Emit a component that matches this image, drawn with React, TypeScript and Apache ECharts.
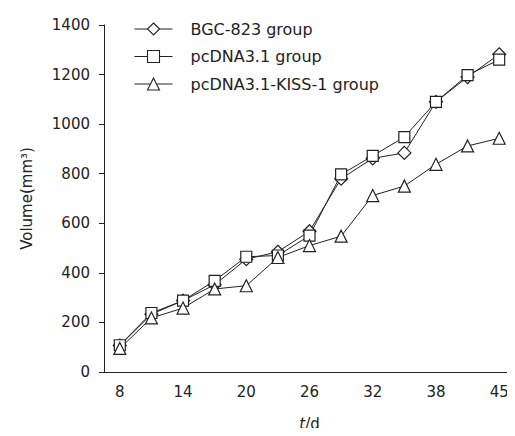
import React, { useEffect, useRef } from "react";
import * as echarts from "echarts";

const days = ["8", "11", "14", "17", "20", "23", "26", "29", "32", "35", "38", "41", "45"];
const bgc823 = [107, 233, 288, 352, 455, 485, 568, 780, 862, 884, 1090, 1190, 1282];
const pcdna = [108, 238, 288, 368, 465, 470, 550, 797, 872, 948, 1090, 1198, 1260];
const kiss1 = [95, 218, 258, 335, 348, 462, 510, 548, 712, 750, 838, 912, 943];
const yTicks = { min: 0, max: 1400, interval: 200 };

const FONT = "DejaVu Sans";
const INK = "#222";

export default function App() {
  const ref = useRef<HTMLDivElement>(null);
  useEffect(() => {
    if (!ref.current) return;
    const chart = echarts.init(ref.current, undefined, { renderer: "svg" });
    const mk = (name: string, data: number[], symbol: string, size: number) => ({
      name,
      type: "line",
      data,
      symbol,
      symbolSize: size,
      showAllSymbol: true,
      lineStyle: { color: INK, width: 1 },
      itemStyle: { color: "#fff", borderColor: INK, borderWidth: 1.2 },
      emphasis: { disabled: true },
    });
    chart.setOption({
      animation: false,
      backgroundColor: "#fff",
      textStyle: { fontFamily: FONT, color: INK },
      grid: { left: 104, right: 0, top: 25, bottom: 59, containLabel: false },
      legend: {
        orient: "vertical",
        left: 129,
        top: 16,
        itemWidth: 38,
        itemHeight: 15,
        itemGap: 11.5,
        lineStyle: { width: 1, color: INK },
        itemStyle: { color: "#fff", borderColor: INK, borderWidth: 1.1 },
        textStyle: { fontFamily: FONT, fontSize: 16, lineHeight: 16, color: INK, padding: [0, 0, 0, 13] },
        data: ["BGC-823 group", "pcDNA3.1 group", "pcDNA3.1-KISS-1 group"],
      },
      xAxis: {
        type: "category",
        data: days,
        boundaryGap: true,
        name: "{i|t}/d",
        nameLocation: "middle",
        nameGap: 44,
        nameTextStyle: {
          fontFamily: FONT,
          fontSize: 15,
          color: INK,
          rich: { i: { fontStyle: "italic", fontFamily: FONT, fontSize: 15, color: INK } },
        },
        axisLine: { lineStyle: { color: INK, width: 1 } },
        axisTick: { inside: true, length: 6, interval: 0, lineStyle: { color: INK } },
        axisLabel: { interval: 1, fontFamily: FONT, fontSize: 15, color: INK, margin: 12 },
        splitLine: { show: false },
      },
      yAxis: {
        type: "value",
        min: yTicks.min,
        max: yTicks.max,
        interval: yTicks.interval,
        name: "Volume(mm³)",
        nameLocation: "middle",
        nameGap: 70,
        nameTextStyle: { fontFamily: FONT, fontSize: 15, color: INK },
        axisLine: { show: true, lineStyle: { color: INK, width: 1 } },
        axisTick: { show: true, inside: false, length: 5, lineStyle: { color: INK } },
        axisLabel: { fontFamily: FONT, fontSize: 15, color: INK, margin: 14, formatter: (v: number) => String(v) },
        splitLine: { show: false },
      },
      series: [
        mk("BGC-823 group", bgc823, "diamond", 13),
        mk("pcDNA3.1 group", pcdna, "rect", 11),
        mk("pcDNA3.1-KISS-1 group", kiss1, "triangle", 12),
      ],
    });
    return () => chart.dispose();
  }, []);
  return <div ref={ref} style={{ width: 515, height: 436, margin: -8 }} />;
}
